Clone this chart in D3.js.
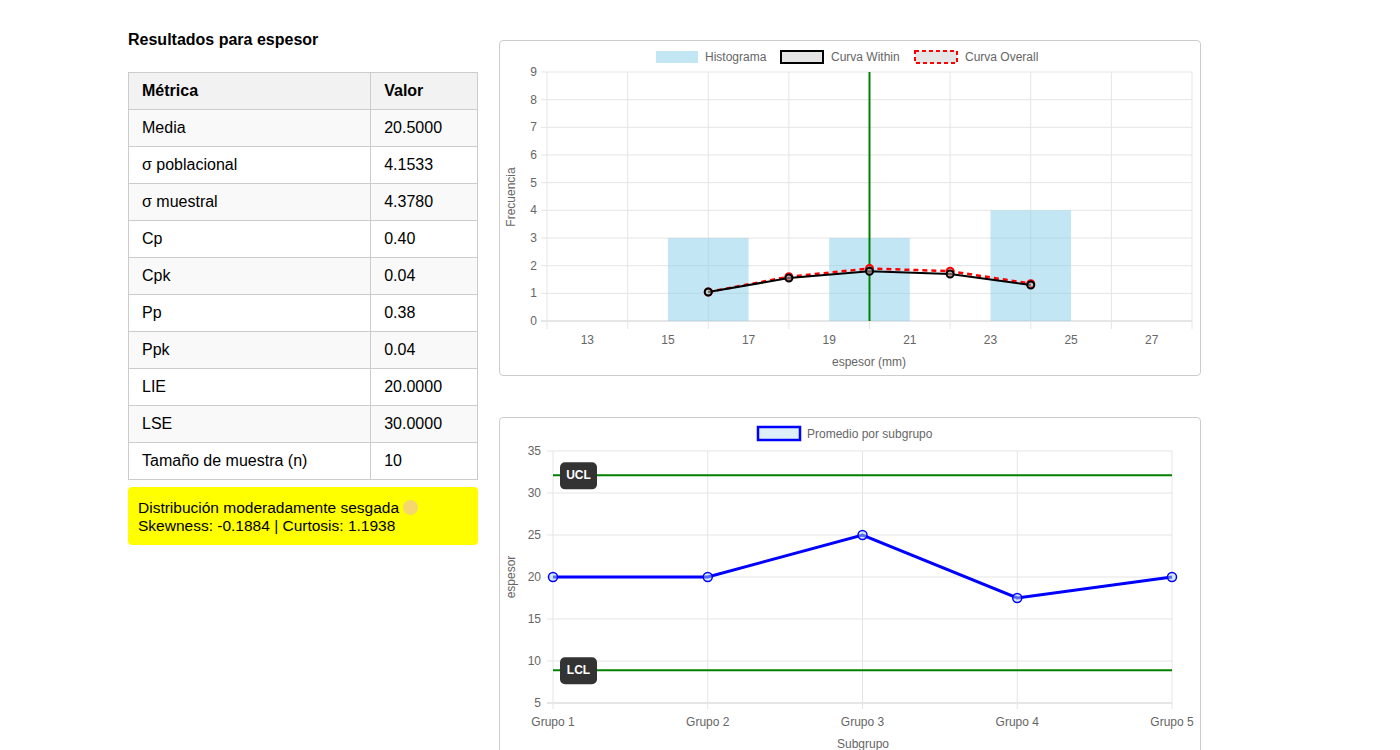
<!DOCTYPE html>
<html><head><meta charset="utf-8">
<script src="https://cdn.jsdelivr.net/npm/d3@7"></script>
<style>
body{margin:0;font-family:Arial,"Liberation Sans",sans-serif;background:#fff;}
h3{position:absolute;left:128px;top:31px;margin:0;font-size:16px;font-weight:bold;}
table{position:absolute;left:128px;top:72px;width:350px;border-collapse:collapse;font-size:16px;}
td,th{border:1px solid #ccc;height:36px;padding:0 13px;text-align:left;}
th{background:#f2f2f2;font-weight:bold;}
tr:nth-child(even) td{background:#f9f9f9;}
#note{position:absolute;left:128px;top:487px;width:330px;padding:12px 10px 10px 10px;background:#ffff00;border-radius:4px;font-size:15.5px;line-height:18px;}
.box{position:absolute;border:1px solid #ccc;border-radius:4px;}
</style></head><body>
<h3>Resultados para espesor</h3>
<table id="tbl"></table>
<div id="note">Distribución moderadamente sesgada <span style="display:inline-block;width:15px;height:15px;border-radius:50%;background:#f5d76e;vertical-align:-2px"></span><br>Skewness: -0.1884 | Curtosis: 1.1938</div>
<div class="box" style="left:499px;top:40px;width:700px;height:334px"></div>
<div class="box" style="left:499px;top:417px;width:700px;height:340px"></div>
<svg id="chart" width="1400" height="750" style="position:absolute;left:0;top:0"></svg>
<script>
const metrics = ["Media","σ poblacional","σ muestral","Cp","Cpk","Pp","Ppk","LIE","LSE","Tamaño de muestra (n)"];
const metricValues = ["20.5000","4.1533","4.3780","0.40","0.04","0.38","0.04","20.0000","30.0000","10"];
const binStarts = [15, 19, 23];
const binCounts = [3, 3, 4];
const curveX = [16, 18, 20, 22, 24];
const withinY = [1.05, 1.55, 1.8, 1.7, 1.3];
const overallY = [1.05, 1.6, 1.9, 1.8, 1.35];
const lie = 20;
const groups = ["Grupo 1","Grupo 2","Grupo 3","Grupo 4","Grupo 5"];
const groupMeans = [20, 20, 25, 17.5, 20];
const ucl = 32.1, lcl = 8.9;

const tbl = d3.select("#tbl");
tbl.append("tr").selectAll("th").data(["Métrica","Valor"]).join("th").text(d=>d);
metrics.forEach((m,i)=>{const r=tbl.append("tr");r.append("td").text(m);r.append("td").text(metricValues[i]);});

const svg = d3.select("#chart");
const grid = "#e5e5e5", tc = "#666", font = "Arial, sans-serif";

// Histogram
const x1 = d3.scaleLinear().domain([12,28]).range([547,1192]);
const y1 = d3.scaleLinear().domain([0,9]).range([321,72]);
const g1 = svg.append("g").attr("font-family",font).attr("font-size",12);
d3.range(0,10).forEach(v=>{
  g1.append("line").attr("x1",x1(12)-6).attr("x2",x1(28)).attr("y1",y1(v)).attr("y2",y1(v)).attr("stroke",v===0?"#ccc":grid);
  g1.append("text").attr("x",x1(12)-10).attr("y",y1(v)+4).attr("text-anchor","end").attr("fill",tc).text(v);
});
d3.range(12,29,2).forEach(v=>g1.append("line").attr("x1",x1(v)).attr("x2",x1(v)).attr("y1",y1(9)).attr("y2",y1(0)+8).attr("stroke",grid));
d3.range(13,28,2).forEach(v=>g1.append("text").attr("x",x1(v)).attr("y",344).attr("text-anchor","middle").attr("fill",tc).text(v));
g1.selectAll("rect.bar").data(binStarts).join("rect").attr("x",d=>x1(d)).attr("width",d=>x1(d+2)-x1(d))
  .attr("y",(d,i)=>y1(binCounts[i])).attr("height",(d,i)=>y1(0)-y1(binCounts[i])).attr("fill","rgba(135,206,235,0.5)");
g1.append("line").attr("x1",x1(lie)).attr("x2",x1(lie)).attr("y1",y1(9)).attr("y2",y1(0)).attr("stroke","green").attr("stroke-width",2);
const ln1 = d3.line().x(d=>x1(d[0])).y(d=>y1(d[1]));
g1.append("path").attr("d",ln1(curveX.map((v,i)=>[v,overallY[i]]))).attr("fill","none").attr("stroke","red").attr("stroke-width",2.5).attr("stroke-dasharray","5,4");
g1.selectAll("circle.o").data(curveX).join("circle").attr("cx",d=>x1(d)).attr("cy",(d,i)=>y1(overallY[i])).attr("r",3.5).attr("fill","rgba(200,200,200,0.5)").attr("stroke","red").attr("stroke-width",2);
g1.append("path").attr("d",ln1(curveX.map((v,i)=>[v,withinY[i]]))).attr("fill","none").attr("stroke","black").attr("stroke-width",2);
g1.selectAll("circle.w").data(curveX).join("circle").attr("cx",d=>x1(d)).attr("cy",(d,i)=>y1(withinY[i])).attr("r",3.5).attr("fill","rgba(200,200,200,0.5)").attr("stroke","black").attr("stroke-width",2);
g1.append("text").attr("x",869).attr("y",366).attr("text-anchor","middle").attr("fill",tc).text("espesor (mm)");
g1.append("text").attr("transform","translate(515,197) rotate(-90)").attr("text-anchor","middle").attr("fill",tc).text("Frecuencia");
// legend 1
g1.append("rect").attr("x",656).attr("y",51).attr("width",42).attr("height",12).attr("fill","rgba(135,206,235,0.5)");
g1.append("text").attr("x",705).attr("y",61).attr("fill",tc).text("Histograma");
g1.append("rect").attr("x",781).attr("y",51).attr("width",42).attr("height",12).attr("fill","#e5e5e5").attr("stroke","black").attr("stroke-width",2);
g1.append("text").attr("x",831).attr("y",61).attr("fill",tc).text("Curva Within");
g1.append("rect").attr("x",915).attr("y",51).attr("width",42).attr("height",12).attr("fill","#e5e5e5").attr("stroke","red").attr("stroke-width",2).attr("stroke-dasharray","4,3");
g1.append("text").attr("x",965).attr("y",61).attr("fill",tc).text("Curva Overall");

// Control chart
const x2 = d3.scalePoint().domain(groups).range([553,1172]);
const y2 = d3.scaleLinear().domain([5,35]).range([703,451]);
const g2 = svg.append("g").attr("font-family",font).attr("font-size",12);
d3.range(5,36,5).forEach(v=>{
  g2.append("line").attr("x1",553-6).attr("x2",1172).attr("y1",y2(v)).attr("y2",y2(v)).attr("stroke",v===5?"#ccc":grid);
  g2.append("text").attr("x",541).attr("y",y2(v)+4).attr("text-anchor","end").attr("fill",tc).text(v);
});
groups.forEach(gn=>{
  g2.append("line").attr("x1",x2(gn)).attr("x2",x2(gn)).attr("y1",451).attr("y2",709).attr("stroke",grid);
  g2.append("text").attr("x",x2(gn)).attr("y",726).attr("text-anchor","middle").attr("fill",tc).text(gn);
});
[["UCL",ucl],["LCL",lcl]].forEach(([l,v])=>{
  g2.append("line").attr("x1",553).attr("x2",1172).attr("y1",y2(v)).attr("y2",y2(v)).attr("stroke","green").attr("stroke-width",2);
  g2.append("rect").attr("x",560).attr("y",y2(v)-13).attr("width",37).attr("height",27).attr("rx",5).attr("fill","#333");
  g2.append("text").attr("x",578.5).attr("y",y2(v)+4).attr("text-anchor","middle").attr("fill","#fff").attr("font-weight","bold").text(l);
});
const ln2 = d3.line().x((d,i)=>x2(groups[i])).y(d=>y2(d));
g2.append("path").attr("d",ln2(groupMeans)).attr("fill","none").attr("stroke","blue").attr("stroke-width",3);
g2.selectAll("circle").data(groupMeans).join("circle").attr("cx",(d,i)=>x2(groups[i])).attr("cy",d=>y2(d)).attr("r",4.5).attr("fill","rgba(173,216,230,0.5)").attr("stroke","blue").attr("stroke-width",1.5);
g2.append("text").attr("x",863).attr("y",748).attr("text-anchor","middle").attr("fill",tc).text("Subgrupo");
g2.append("text").attr("transform","translate(515,577) rotate(-90)").attr("text-anchor","middle").attr("fill",tc).text("espesor");
g2.append("rect").attr("x",758).attr("y",427).attr("width",42).attr("height",13).attr("fill","#ddf0fa").attr("stroke","blue").attr("stroke-width",2.5);
g2.append("text").attr("x",807).attr("y",438).attr("fill",tc).text("Promedio por subgrupo");
</script>
</body></html>
